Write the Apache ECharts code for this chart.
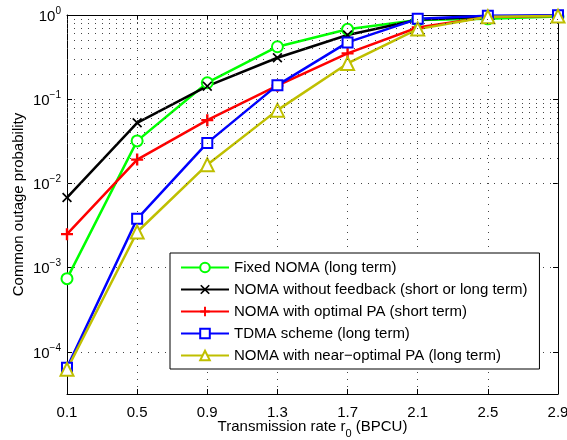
<!DOCTYPE html>
<html>
<head>
<meta charset="utf-8">
<script src="https://cdn.jsdelivr.net/npm/echarts@6/dist/echarts.min.js"></script>
<style>
html,body{margin:0;padding:0;background:#fff;}
#chart{width:567px;height:440px;}
</style>
</head>
<body>
<div id="chart"></div>
<script>
const rates = ['0.1','0.5','0.9','1.3','1.7','2.1','2.5','2.9'];
const fixedNoma   = [7.4e-4, 0.032, 0.157, 0.42, 0.676, 0.87, 0.90, 0.96];
const noFeedback  = [6.8e-3, 0.0525, 0.143, 0.311, 0.578, 0.88, 0.96, 0.98];
const optimalPA   = [2.5e-3, 0.0192, 0.0564, 0.145, 0.35, 0.71, 0.95, 0.98];
const tdma        = [6.5e-5, 3.8e-3, 0.0303, 0.147, 0.473, 0.90, 0.98, 0.99];
const nearOptPA   = [6.2e-5, 2.65e-3, 0.0167, 0.0742, 0.266, 0.68, 0.955, 0.97];
const seriesNames = [
  'Fixed NOMA (long term)',
  'NOMA without feedback (short or long term)',
  'NOMA with optimal PA (short term)',
  'TDMA scheme (long term)',
  'NOMA with near\u2212optimal PA (long term)'
];
const yMin = Math.pow(10, -4.5);
const yMax = 1;

const FONT = '"Liberation Sans", Arial, Helvetica, sans-serif';
const minorVals = [];
for (let e = -5; e <= -1; e++) {
  for (let k = 2; k <= 9; k++) {
    const v = k * Math.pow(10, e);
    if (v >= yMin && v < yMax) minorVals.push(v);
  }
}
const dotStyle = {color: '#444', type: [1, 6], width: 1};
const plusPath = 'path://M4,0H6V4H10V6H6V10H4V6H0V4H4Z';
const xPath = 'path://M1.2,0L5,3.8L8.8,0L10,1.2L6.2,5L10,8.8L8.8,10L5,6.2L1.2,10L0,8.8L3.8,5L0,1.2Z';

function yLabel(v) {
  const e = Math.log10(v);
  const r = Math.round(e);
  if (Math.abs(e - r) > 1e-6) return '';
  return '{b|10}{s|' + (r < 0 ? '\u2212' + (-r) : r) + '}';
}

function mkSeries(name, data, color, symbol, size, hollow) {
  return {
    name: name, type: 'line', data: data,
    xAxisIndex: 0, yAxisIndex: 0,
    symbol: symbol, symbolSize: size,
    showAllSymbol: true,
    lineStyle: {color: color, width: 2.5},
    itemStyle: hollow ? {color: color, borderColor: color, borderWidth: 2} : {color: color, borderColor: color, borderWidth: 0},
    emphasis: {disabled: true},
    z: 3
  };
}

const chart = echarts.init(document.getElementById('chart'), null, {renderer: 'canvas'});
const option = {
  animation: false,
  backgroundColor: '#fff',
  textStyle: {fontFamily: FONT},
  grid: {left: 67, right: 9, top: 15, bottom: 46, containLabel: false, outerBoundsMode: 'none'},
  legend: {
    data: seriesNames,
    orient: 'vertical',
    left: 170, top: 253,
    backgroundColor: '#fff',
    borderColor: '#000', borderWidth: 1, borderRadius: 0,
    padding: [7, 12, 6, 10],
    itemGap: 7,
    itemWidth: 48, itemHeight: 12,
    textStyle: {fontSize: 15, color: '#000', fontFamily: FONT, lineHeight: 15},
    selectedMode: false
  },
  xAxis: [{
    type: 'category', data: rates, boundaryGap: false,
    position: 'bottom',
    name: '{a|Transmission rate r}{s|0}{a| (BPCU)}',
    nameLocation: 'middle', nameGap: 25, nameMoveOverlap: false,
    nameTextStyle: {
      rich: {
        a: {fontSize: 15, color: '#000', fontFamily: FONT, lineHeight: 18, verticalAlign: 'top'},
        s: {fontSize: 11, color: '#000', fontFamily: FONT, lineHeight: 20, verticalAlign: 'bottom'}
      }
    },
    axisLine: {show: true, lineStyle: {color: '#000', width: 1}},
    axisTick: {show: true, inside: true, length: 5, alignWithLabel: true, lineStyle: {color: '#000'}},
    axisLabel: {fontSize: 15, color: '#000', fontFamily: FONT, margin: 11, interval: 0},
    splitLine: {show: true, lineStyle: dotStyle}
  }, {
    type: 'category', data: rates, boundaryGap: false,
    position: 'top',
    axisLine: {show: true, lineStyle: {color: '#000', width: 1}},
    axisTick: {show: true, inside: true, length: 5, lineStyle: {color: '#000'}},
    axisLabel: {show: false},
    splitLine: {show: false}
  }],
  yAxis: [{
    type: 'log', logBase: 10, min: yMin, max: yMax,
    position: 'left',
    name: 'Common outage probability',
    nameLocation: 'middle', nameGap: 41, nameMoveOverlap: false,
    nameTextStyle: {fontSize: 15, color: '#000', fontFamily: FONT},
    axisLine: {show: true, lineStyle: {color: '#000', width: 1}},
    axisTick: {show: true, inside: true, length: 5, lineStyle: {color: '#000'}},
    axisLabel: {
      formatter: yLabel, margin: 6, color: '#000',
      rich: {
        b: {fontSize: 15, color: '#000', fontFamily: FONT, lineHeight: 18, verticalAlign: 'bottom'},
        s: {fontSize: 10, color: '#000', fontFamily: FONT, lineHeight: 12, verticalAlign: 'top'}
      }
    },
    splitLine: {show: true, lineStyle: dotStyle}
  }, {
    type: 'log', logBase: 10, min: yMin, max: yMax,
    position: 'right',
    axisLine: {show: true, lineStyle: {color: '#000', width: 1}},
    axisTick: {show: true, inside: true, length: 5, lineStyle: {color: '#000'}},
    axisLabel: {show: false},
    splitLine: {show: false}
  }],
  series: [
    {
      name: 'minorgrid', type: 'line', data: [], xAxisIndex: 0, yAxisIndex: 0,
      silent: true, z: 1,
      markLine: {
        silent: true, symbol: 'none', animation: false,
        label: {show: false},
        lineStyle: dotStyle,
        emphasis: {disabled: true},
        data: minorVals.map(v => ({yAxis: v}))
      }
    },
    mkSeries(seriesNames[0], fixedNoma, '#00ff00', 'emptyCircle', 11, true),
    mkSeries(seriesNames[1], noFeedback, '#000000', xPath, 10, false),
    mkSeries(seriesNames[2], optimalPA, '#ff0000', plusPath, 12, false),
    mkSeries(seriesNames[3], tdma, '#0000ff', 'emptyRect', 10, true),
    mkSeries(seriesNames[4], nearOptPA, '#bfbf00', 'emptyTriangle', 13, true)
  ]
};
chart.setOption(option);
</script>
</body>
</html>
